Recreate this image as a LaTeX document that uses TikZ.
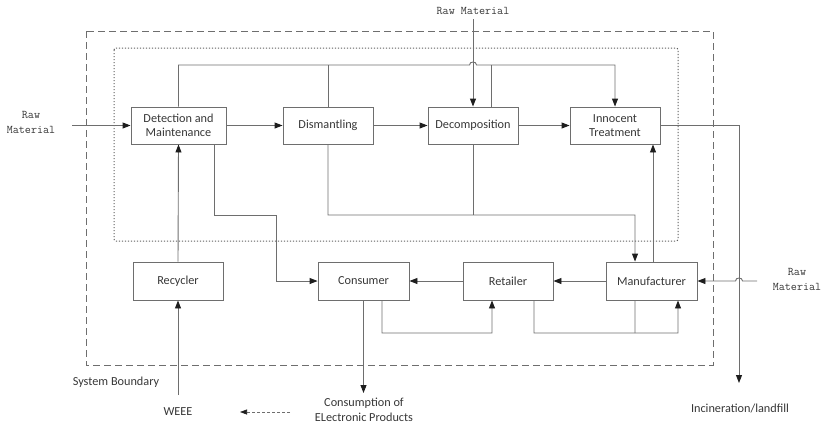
\documentclass[tikz,border=0pt]{standalone}
\usepackage{fontspec}
\setmainfont{Carlito}
\usetikzlibrary{arrows.meta}
\definecolor{ln}{RGB}{110,110,110}
\definecolor{tx}{RGB}{55,55,55}
\definecolor{tip}{RGB}{30,30,30}
\begin{document}
\begin{tikzpicture}[x=1bp,y=-1bp,
  box/.style={draw=ln,line width=0.9bp,minimum width=90bp,minimum height=37bp,inner sep=0pt,
    align=center,text=tx,font=\fontsize{12.3}{14.5}\selectfont},
  lbl/.style={text=tx,align=center,inner sep=0pt,font=\fontsize{12.3}{15}\selectfont},
  mono/.style={text=tx,align=center,inner sep=0pt,font=\fontfamily{lmtt}\fontsize{11.8}{15}\selectfont},
  wire/.style={draw=ln,line width=0.9bp},
  arr/.style={wire,-{Triangle[length=8bp,width=6bp,color=tip]}}]
\useasboundingbox (0,0) rectangle (821,429);

% system boundary and inner frame
\draw[ln,line width=0.9bp,dash pattern=on 7bp off 4bp] (86,31) rectangle (713,365);
\draw[ln!85!black,line width=1bp,dash pattern=on 1.2bp off 1.8bp,rounded corners=2bp] (114,48) rectangle (678,241);

% process boxes
\node[box,minimum width=95bp] (det) at (178.5,125.5) {Detection and\\Maintenance};
\node[box] (dis) at (328,125.5) {Dismantling};
\node[box] (dec) at (473,125.5) {Decomposition};
\node[box] (inn) at (615,125.5) {Innocent\\Treatment};
\node[box,minimum height=38bp] (rec) at (178,281) {Recycler};
\node[box,minimum width=91bp,minimum height=38bp] (con) at (363.5,281) {Consumer};
\node[box,minimum height=38bp] (ret) at (508,281) {Retailer};
\node[box,minimum width=91bp,minimum height=38bp] (man) at (651.5,281) {Manufacturer};

% labels
\node[mono] (rawtop) at (473,11) {Raw Material};
\node[mono] (rawleft) at (31,122) {Raw\\Material};
\node[mono] (rawright) at (797,279) {Raw\\Material};
\node[lbl] (sysb) at (116,382) {System Boundary};
\node[lbl] (weee) at (178,412) {WEEE};
\node[lbl] (cons) at (364,410) {Consumption of\\ELectronic Products};
\node[lbl] (inc) at (740,408) {Incineration/landfill};

% free ends
\coordinate (rawlefte) at (72,125.5);
\coordinate (rawtope) at (473,19);
\coordinate (rawrighte) at (757,281);
\coordinate (weeee) at (178,395);
\coordinate (conse) at (363.5,393);
\coordinate (ince) at (739,383);
\coordinate (legA) at (290,412);
\coordinate (legB) at (240,412);

% main chain
\draw[arr] (rawlefte) -- (det.west);
\draw[arr] (det.east) -- (dis.west);
\draw[arr] (dis.east) -- (dec.west);
\draw[arr] (dec.east) -- (inn.west);
\draw[arr] (rawtope) -- (dec.north);

% top bypass line with a hop over the raw material feed
\draw[arr] (det.north) -- (178.5,65) -- (469.5,65) .. controls (469.5,61) and (476.5,61) .. (476.5,65) -| (inn.north);
\draw[wire] (dis.north) -- (328,65);
\draw[wire] ([xshift=18bp]dec.north) -- ++(0,-42);

% to incineration / landfill
\draw[arr] (inn.east) -- (739,125.5) -- (ince);

% recycling loop
\draw[arr] (weeee) -- (rec.south);
\draw[arr] (rec.north) -- (det.south);
\draw[arr] ([xshift=35.5bp]det.south) |- (276,215) |- (con.west);

% parts to manufacturer
\draw[arr] (dis.south) |- (635,215) -- ([xshift=-16.5bp]man.north);
\draw[wire] (dec.south) -- (473,215);
\coordinate (upx) at ([xshift=38bp]inn.south);
\draw[arr] (upx |- man.north) -- (upx);

% market chain
\draw[arr] (rawrighte) -- (742.5,281) .. controls (742.5,277) and (735.5,277) .. (735.5,281) -- (man.east);
\draw[arr] (man.west) -- (ret.east);
\draw[arr] (ret.west) -- (con.east);
\draw[arr] (con.south) -- (conse);
\draw[arr] ([xshift=18.5bp]con.south) |- (492,333) -- ([xshift=-16bp]ret.south);
\draw[arr] ([xshift=26bp]ret.south) |- (678,333) -- ([xshift=26.5bp]man.south);
\draw[wire] ([xshift=-16.5bp]man.south) -- (635,333);

% legend arrow
\draw[wire,densely dashed,line width=0.7bp,-{Triangle[length=7bp,width=5bp,color=tip]}] (legA) -- (legB);
\end{tikzpicture}
\end{document}
